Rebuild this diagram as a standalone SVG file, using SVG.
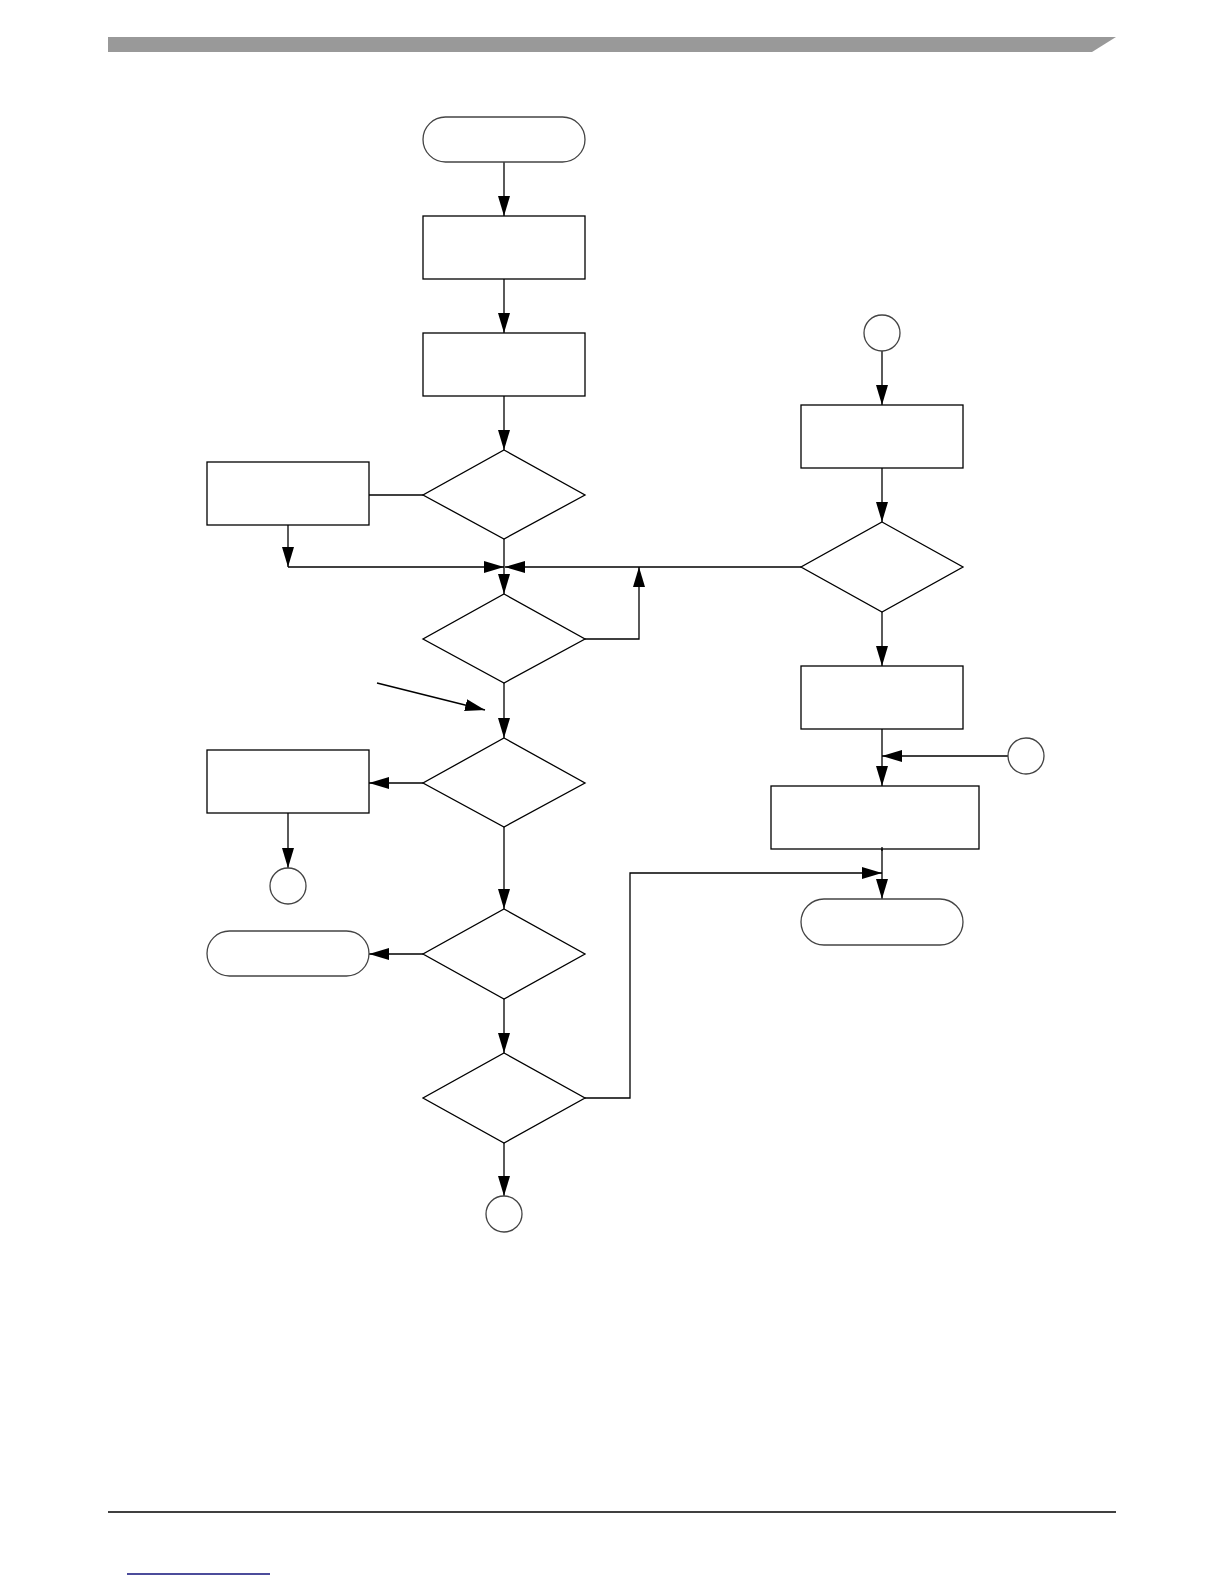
<svg xmlns="http://www.w3.org/2000/svg" width="1224" height="1584" viewBox="0 0 1224 1584">
<style>
.n{fill:#fff;stroke:#000;stroke-width:1.3}
.t{fill:#fff;stroke:#444;stroke-width:1.3}
.c{fill:none;stroke:#000;stroke-width:1.3}
</style>
<defs>
<marker id="ah" viewBox="0 0 20 12" refX="20" refY="6" markerWidth="20" markerHeight="12" markerUnits="userSpaceOnUse" orient="auto">
<path d="M0,0 L20,6 L0,12 z" fill="#000"/>
</marker>
</defs>
<rect width="1224" height="1584" fill="#fff"/>
<g id="header"><polygon points="108,37 1116,37 1092,52 108,52" fill="#999"/></g>
<g id="footer">
<line x1="108" y1="1512" x2="1116" y2="1512" stroke="#000" stroke-width="1.5"/>
<line x1="127" y1="1574" x2="270" y2="1574" stroke="#10107a" stroke-width="1.6"/>
</g>
<g id="connectors" class="c">
<path class="c" d="M504,162 V216" marker-end="url(#ah)"/>
<path class="c" d="M504,279 V333" marker-end="url(#ah)"/>
<path class="c" d="M504,396 V450" marker-end="url(#ah)"/>
<path class="c" d="M423,495 H369"/>
<path class="c" d="M288,525 V567" marker-end="url(#ah)"/>
<path class="c" d="M288,567 H504" marker-end="url(#ah)"/>
<path class="c" d="M504,539 V594" marker-end="url(#ah)"/>
<path class="c" d="M801,567 H505" marker-end="url(#ah)"/>
<path class="c" d="M585,639 H639 V567" marker-end="url(#ah)"/>
<path class="c" d="M377,683 L485,710" marker-end="url(#ah)"/>
<path class="c" d="M504,683 V738" marker-end="url(#ah)"/>
<path class="c" d="M423,783 H369" marker-end="url(#ah)"/>
<path class="c" d="M288,813 V868" marker-end="url(#ah)"/>
<path class="c" d="M504,827 V909" marker-end="url(#ah)"/>
<path class="c" d="M423,954 H369" marker-end="url(#ah)"/>
<path class="c" d="M504,999 V1053" marker-end="url(#ah)"/>
<path class="c" d="M504,1143 V1196" marker-end="url(#ah)"/>
<path class="c" d="M585,1098 H630 V873 H882" marker-end="url(#ah)"/>
<path class="c" d="M882,351 V405" marker-end="url(#ah)"/>
<path class="c" d="M882,468 V522" marker-end="url(#ah)"/>
<path class="c" d="M882,612 V666" marker-end="url(#ah)"/>
<path class="c" d="M882,729 V786" marker-end="url(#ah)"/>
<path class="c" d="M1008,756 H882" marker-end="url(#ah)"/>
<path class="c" d="M882,847 V899" marker-end="url(#ah)"/>
</g>
<g id="start"><rect class="t" x="423" y="117" width="162" height="45" rx="22.5"/></g>
<g id="box1"><rect class="n" x="423" y="216" width="162" height="63"/></g>
<g id="box2"><rect class="n" x="423" y="333" width="162" height="63"/></g>
<g id="d1"><polygon class="n" points="504,450 585,495 504,539 423,495"/></g>
<g id="leftbox1"><rect class="n" x="207" y="462" width="162" height="63"/></g>
<g id="d2"><polygon class="n" points="504,594 585,639 504,683 423,639"/></g>
<g id="d3"><polygon class="n" points="504,738 585,783 504,827 423,783"/></g>
<g id="leftbox2"><rect class="n" x="207" y="750" width="162" height="63"/></g>
<g id="circle1"><circle class="t" cx="288" cy="886" r="18"/></g>
<g id="d4"><polygon class="n" points="504,909 585,954 504,999 423,954"/></g>
<g id="end1"><rect class="t" x="207" y="931" width="162" height="45" rx="22.5"/></g>
<g id="d5"><polygon class="n" points="504,1053 585,1098 504,1143 423,1098"/></g>
<g id="circle2"><circle class="t" cx="504" cy="1214" r="18"/></g>
<g id="circleR1"><circle class="t" cx="882" cy="333" r="18"/></g>
<g id="boxR1"><rect class="n" x="801" y="405" width="162" height="63"/></g>
<g id="dR"><polygon class="n" points="882,522 963,567 882,612 801,567"/></g>
<g id="boxR2"><rect class="n" x="801" y="666" width="162" height="63"/></g>
<g id="circleR2"><circle class="t" cx="1026" cy="756" r="18"/></g>
<g id="boxR3"><rect class="n" x="771" y="786" width="208" height="63"/></g>
<line x1="882" y1="847" x2="882" y2="851" stroke="#000" stroke-width="1.3"/>
<g id="endR"><rect class="t" x="801" y="899" width="162" height="46" rx="23"/></g>
</svg>
